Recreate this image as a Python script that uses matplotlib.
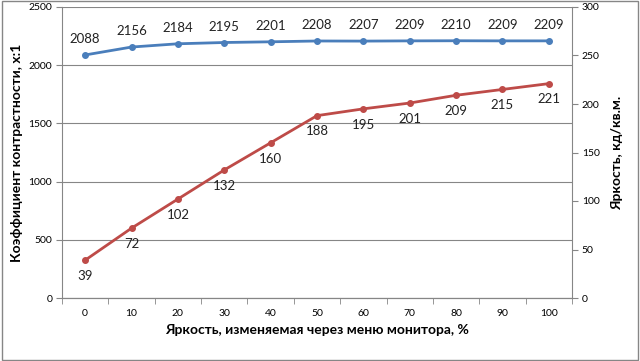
import numpy as np
import matplotlib.pyplot as plt

plt.rcParams['font.family'] = ['Lato', 'DejaVu Sans']

menu = [0, 10, 20, 30, 40, 50, 60, 70, 80, 90, 100]
contrast = [2088, 2156, 2184, 2195, 2201, 2208, 2207, 2209, 2210, 2209, 2209]
brightness = [39, 72, 102, 132, 160, 188, 195, 201, 209, 215, 221]

blue = '#4a7ebb'
red = '#be4b48'
grey = '#868686'

fig = plt.figure(figsize=(6.4, 3.61), dpi=100)
ax = fig.add_axes([62/640, 1 - 298/361, 510/640, 291/361])
ax2 = ax.twinx()

x = np.arange(len(menu))
ax.plot(x, contrast, color=blue, lw=2, marker='o', ms=4, zorder=3)
ax2.plot(x, brightness, color=red, lw=2, marker='o', ms=4, zorder=3)

for xi, v in zip(x, contrast):
    ax.annotate(str(v), (xi, v), xytext=(0, 7), textcoords='offset points',
                ha='center', va='bottom', fontsize=9.5, color='#222222')
for xi, v in zip(x, brightness):
    ax2.annotate(str(v), (xi, v), xytext=(0, -7), textcoords='offset points',
                 ha='center', va='top', fontsize=9.5, color='#222222')

ax.set_xlim(-0.5, len(menu) - 0.5)
ax.set_ylim(0, 2500)
ax2.set_ylim(0, 300)
ax.set_yticks(np.arange(0, 2501, 500))
ax2.set_yticks(np.arange(0, 301, 50))
ax.set_xticks(x)
ax.set_xticklabels([str(m) for m in menu])
ax.set_xticks(np.arange(-0.5, len(menu)), minor=True)
ax.tick_params(axis='x', which='major', length=0, pad=8)
ax.tick_params(axis='x', which='minor', length=4, color=grey)
ax.tick_params(axis='y', length=4, color=grey, labelsize=7.5, pad=3)
ax2.tick_params(axis='y', length=4, color=grey, labelsize=7.5, pad=3)
ax.tick_params(axis='x', labelsize=7.5)
ax.grid(axis='y', color=grey, lw=0.8)
ax.set_axisbelow(True)

for a in (ax, ax2):
    a.spines['top'].set_visible(False)
    a.spines['left'].set_color(grey)
    a.spines['right'].set_color(grey)
    a.spines['bottom'].set_color(grey)
ax.spines['right'].set_visible(False)
ax2.spines['left'].set_visible(False)

ax.set_xlabel('Яркость, изменяемая через меню монитора, %', fontsize=10,
              fontweight='bold', labelpad=4)
ax.set_ylabel('Коэффициент контрастности, x:1', fontsize=10,
              fontweight='bold', labelpad=4)
ax2.set_ylabel('Яркость, кд/кв.м.', fontsize=10, fontweight='bold', labelpad=8)

fig.patches.append(plt.Rectangle((0.003, 0.004), 0.994, 0.992, transform=fig.transFigure,
                                 fill=False, edgecolor=grey, lw=1))

fig.savefig('out.png', dpi=100)
